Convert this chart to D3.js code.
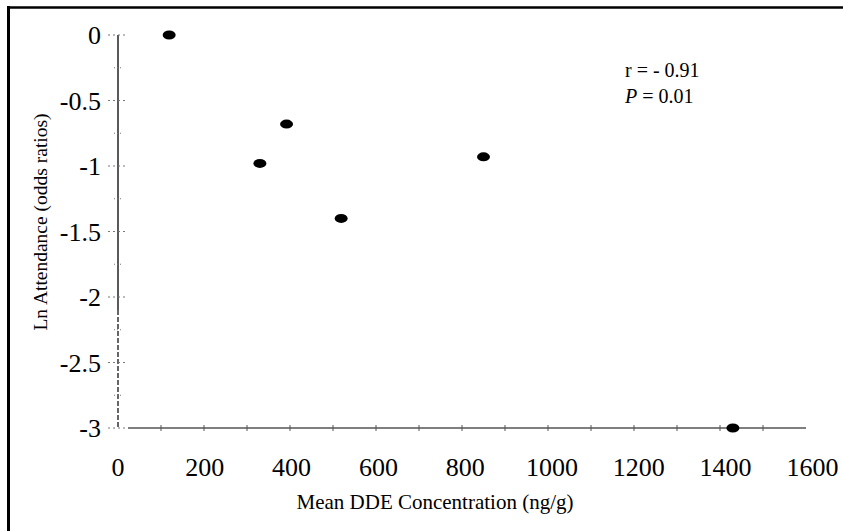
<!DOCTYPE html>
<html>
<head>
<meta charset="utf-8">
<script src="https://cdn.jsdelivr.net/npm/d3@7/dist/d3.min.js"></script>
<style>
  body { margin: 0; background: #fff; }
  svg text { font-family: "Liberation Serif", "Times New Roman", Times, "DejaVu Serif", serif; }
</style>
</head>
<body>
<div id="chart"></div>
<script>
// values
var ddeConc = [119, 330, 392, 519, 850, 1430];
var lnAttendance = [0, -0.98, -0.68, -1.40, -0.93, -3.0];
var xTicks = [0, 200, 400, 600, 800, 1000, 1200, 1400, 1600];
var xMinorTicks = [100, 300, 500, 700, 900, 1100, 1300, 1500];
var yTicks = [0, -0.5, -1, -1.5, -2, -2.5, -3];
var yMinorTicks = [-0.25, -0.75, -1.25, -1.75, -2.25, -2.75];

var width = 843, height = 531;
var serif = "'Liberation Serif', 'Times New Roman', Times, 'DejaVu Serif', serif";

var svg = d3.select("#chart").append("svg")
	.attr("width", width)
	.attr("height", height)
	.attr("font-family", serif);

// frame, only top and left edges are inside the picture
svg.append("rect").attr("x", 0).attr("y", 0).attr("width", width).attr("height", height).attr("fill", "#fff");
svg.append("line").attr("x1", 7).attr("x2", width).attr("y1", 7.5).attr("y2", 7.5)
	.attr("stroke", "#000").attr("stroke-width", 2.5);
svg.append("line").attr("x1", 8.5).attr("x2", 8.5).attr("y1", 6).attr("y2", height)
	.attr("stroke", "#000").attr("stroke-width", 3);

var x = d3.scaleLinear().domain([0, 1600]).range([118, 806]);
var y = d3.scaleLinear().domain([-3, 0]).range([428, 35]);

// y axis line, solid at top, broken lower down like the scan
svg.append("line")
	.attr("x1", x(0)).attr("x2", x(0))
	.attr("y1", y(0)).attr("y2", y(-2.1))
	.attr("stroke", "#000").attr("stroke-width", 1.3);
svg.append("line")
	.attr("x1", x(0)).attr("x2", x(0))
	.attr("y1", y(-2.1)).attr("y2", y(-3))
	.attr("stroke", "#000").attr("stroke-width", 1.2)
	.attr("stroke-dasharray", "5,2");

// y ticks: faint dotted marks across the axis
svg.selectAll(".ytick").data(yTicks).enter().append("line")
	.attr("class", "ytick")
	.attr("x1", x(0) - 10).attr("x2", x(0) + 10)
	.attr("y1", function(d) { return y(d); })
	.attr("y2", function(d) { return y(d); })
	.attr("stroke", "#777").attr("stroke-width", 1)
	.attr("stroke-dasharray", "2,3");
svg.selectAll(".yminor").data(yMinorTicks).enter().append("line")
	.attr("class", "yminor")
	.attr("x1", x(0) - 4).attr("x2", x(0) + 4)
	.attr("y1", function(d) { return y(d); })
	.attr("y2", function(d) { return y(d); })
	.attr("stroke", "#777").attr("stroke-width", 1)
	.attr("stroke-dasharray", "1,2");

svg.selectAll(".ylabel").data(yTicks).enter().append("text")
	.attr("class", "ylabel")
	.attr("x", 101)
	.attr("y", function(d) { return y(d) + 9; })
	.attr("text-anchor", "end")
	.attr("font-size", 26)
	.text(function(d) { return d; });

// x axis line starts a little right of the y axis, as in the scan
svg.append("line")
	.attr("x1", x(0) + 10).attr("x2", x(1600))
	.attr("y1", y(-3)).attr("y2", y(-3))
	.attr("stroke", "#000").attr("stroke-width", 1.2);

svg.selectAll(".xtick").data(xTicks.concat(xMinorTicks).filter(function(d) { return d > 0 && d < 1600; }))
	.enter().append("line")
	.attr("class", "xtick")
	.attr("x1", function(d) { return x(d); })
	.attr("x2", function(d) { return x(d); })
	.attr("y1", y(-3) - 3).attr("y2", y(-3) + 3)
	.attr("stroke", "#555").attr("stroke-width", 1);

svg.selectAll(".xlabel").data(xTicks).enter().append("text")
	.attr("class", "xlabel")
	.attr("x", function(d, i) { return x(d) + i * 0.8; })
	.attr("y", 476)
	.attr("text-anchor", "middle")
	.attr("font-size", 26)
	.text(function(d) { return d; });

// points
svg.selectAll(".dot").data(ddeConc).enter().append("ellipse")
	.attr("class", "dot")
	.attr("cx", function(d) { return x(d); })
	.attr("cy", function(d, i) { return y(lnAttendance[i]); })
	.attr("rx", 6.5).attr("ry", 4.5)
	.attr("fill", "#000");

// axis titles
svg.append("text")
	.attr("x", 435).attr("y", 509)
	.attr("text-anchor", "middle")
	.attr("font-size", 21)
	.text("Mean DDE Concentration (ng/g)");

svg.append("text")
	.attr("transform", "translate(47,222) rotate(-90)")
	.attr("text-anchor", "middle")
	.attr("font-size", 19.5)
	.text("Ln Attendance (odds ratios)");

// statistics note
svg.append("text")
	.attr("x", 625).attr("y", 77)
	.attr("font-size", 20)
	.text("r = - 0.91");
var pNote = svg.append("text")
	.attr("x", 625).attr("y", 103)
	.attr("font-size", 20);
pNote.append("tspan").attr("font-style", "italic").text("P");
pNote.append("tspan").text(" = 0.01");
</script>
</body>
</html>
